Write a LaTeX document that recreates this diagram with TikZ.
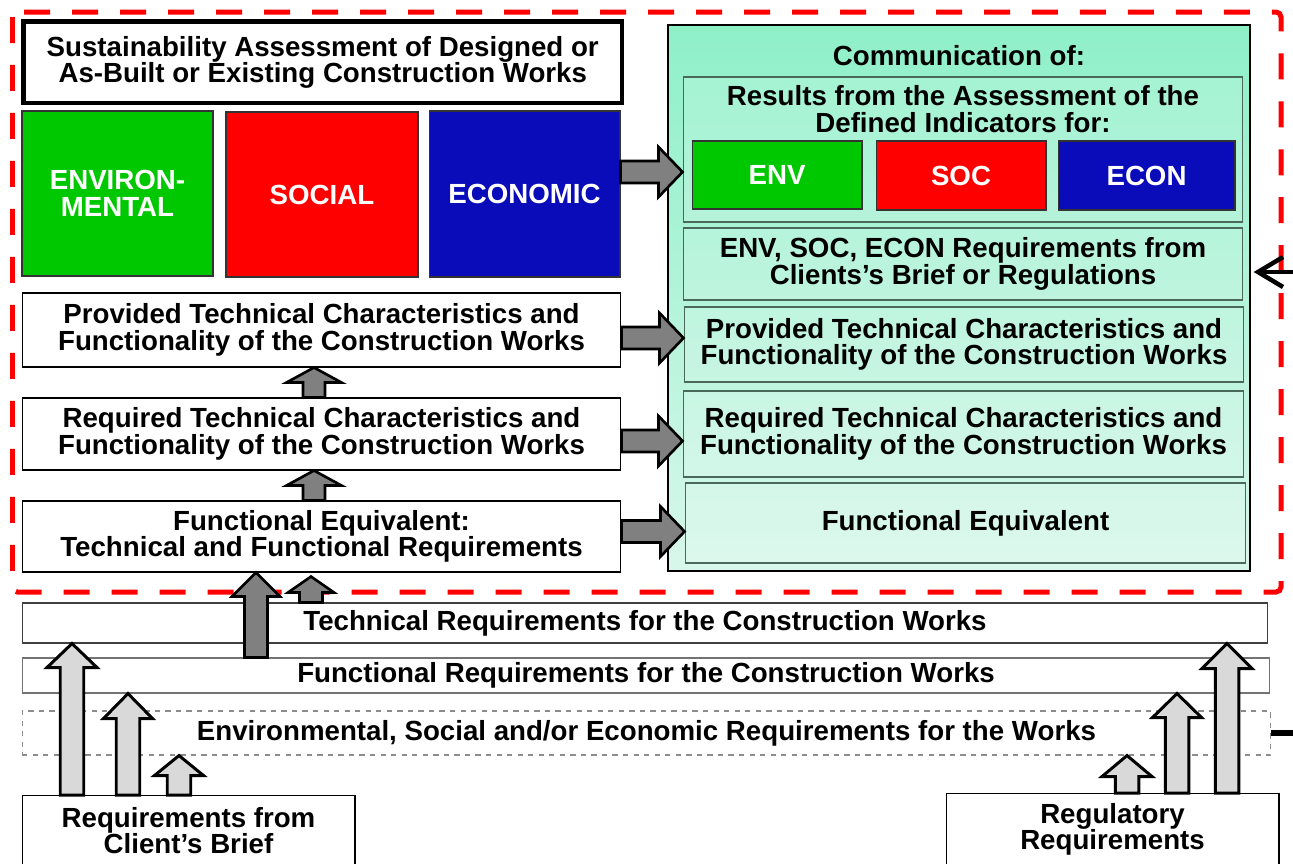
\documentclass[tikz,border=0pt]{standalone}
\usepackage{fontspec}
\setmainfont{Liberation Sans}
\usepackage{xcolor}
\usetikzlibrary{arrows.meta,positioning,calc}

\definecolor{envgreen}{RGB}{0,200,0}
\definecolor{socred}{RGB}{255,0,0}
\definecolor{econblue}{RGB}{10,12,185}
\definecolor{commtop}{RGB}{142,240,200}
\definecolor{commbot}{RGB}{216,247,235}
\definecolor{innerline}{RGB}{75,105,90}
\definecolor{darkarrow}{RGB}{128,128,128}
\definecolor{lightarrow}{RGB}{217,217,217}

% style, from, to, shaft half width, head half width, head length
\newcommand{\blockarrow}[6]{%
  \path (#2) coordinate (ba-s) (#3) coordinate (ba-e);
  \path ($(ba-e)!#6!(ba-s)$) coordinate (ba-h);
  \filldraw[#1] ($(ba-s)!#4!90:(ba-e)$) -- ($(ba-h)!#4!90:(ba-e)$) -- ($(ba-h)!#5!90:(ba-e)$) -- (ba-e)
    -- ($(ba-h)!#5!-90:(ba-e)$) -- ($(ba-h)!#4!-90:(ba-e)$) -- ($(ba-s)!#4!-90:(ba-e)$) -- cycle;}

\begin{document}
\begin{tikzpicture}[x=0.02cm, y=-0.02cm,
every node/.style={font=\fontsize{15.75}{15.1}\selectfont\bfseries, align=center, inner sep=0pt},
whitebox/.style={draw, fill=white, line width=0.6pt},
colbox/.style={draw=black!80, text=white, line width=0.6pt},
commbox/.style={draw, line width=1.2pt, top color=commtop, bottom color=commbot},
subbox/.style={draw=innerline, line width=0.6pt, fill=white, fill opacity=0.15, text opacity=1},
darrow/.style={fill=darkarrow, draw=black, line width=1.5pt},
larrow/.style={fill=lightarrow, draw=black, line width=1.7pt},
]
\useasboundingbox (0,0) rectangle (1293,863);

\draw[red, line width=0.1cm, dash pattern=on 0.52cm off 0.44cm, rounded corners=0.1cm] (12.5,12) rectangle (1281,592);

\node[draw, line width=2.6pt, minimum width=11.97cm, minimum height=1.63cm] (title) at (322.75,62.25) {Sustainability Assessment of Designed or\\As-Built or Existing Construction Works};
\node[colbox, fill=envgreen, minimum width=3.82cm, minimum height=3.3cm] (envir) at (117.5,193.5) {ENVIRON-\\MENTAL};
\node[colbox, fill=socred, minimum width=3.84cm, minimum height=3.3cm] (social) at (322,194.5) {SOCIAL};
\node[colbox, fill=econblue, minimum width=3.82cm, minimum height=3.32cm] (econ) at (524.5,194) {ECONOMIC};

\node[whitebox, minimum width=11.98cm, minimum height=1.48cm] (provL) at (321.5,330) {Provided Technical Characteristics and\\Functionality of the Construction Works};
\node[whitebox, minimum width=11.98cm, minimum height=1.44cm] (reqL) at (321.5,434) {Required Technical Characteristics and\\Functionality of the Construction Works};
\node[whitebox, minimum width=11.98cm, minimum height=1.42cm] (feL) at (321.5,536.5) {Functional Equivalent:\\Technical and Functional Requirements};

\node[commbox, minimum width=11.64cm, minimum height=10.92cm] (comm) at (959,298) {};
\node (commtxt) at (959,56) {Communication of:};
\node[subbox, minimum width=11.2cm, minimum height=2.9cm] (res) at (963,149.5) {};
\node (restxt) at (963,109) {Results from the Assessment of the\\Defined Indicators for:};
\node[colbox, fill=envgreen, minimum width=3.4cm, minimum height=1.36cm] (env) at (777,175) {ENV};
\node[colbox, fill=socred, minimum width=3.4cm, minimum height=1.38cm] (soc) at (961,175.5) {SOC};
\node[colbox, fill=econblue, minimum width=3.54cm, minimum height=1.38cm] (ecn) at (1146.5,175.5) {ECON};
\node[subbox, minimum width=11.2cm, minimum height=1.44cm] (envreq) at (963,264) {ENV, SOC, ECON Requirements from\\Clients’s Brief or Regulations};
\node[subbox, minimum width=11.2cm, minimum height=1.5cm] (provR) at (964,344.5) {Provided Technical Characteristics and\\Functionality of the Construction Works};
\node[subbox, minimum width=11.22cm, minimum height=1.72cm] (reqR) at (963.5,434) {Required Technical Characteristics and\\Functionality of the Construction Works};
\node[subbox, minimum width=11.22cm, minimum height=1.6cm] (feR) at (965.5,523) {Functional Equivalent};

\node[draw=black!75, fill=white, line width=0.6pt, minimum width=24.92cm, minimum height=0.8cm] (tech) at (645,623) {Technical Requirements for the Construction Works};
\node[draw=black!55, fill=white, line width=0.6pt, minimum width=24.96cm, minimum height=0.7cm] (func) at (646,675.5) {Functional Requirements for the Construction Works};
\node[draw=black!45, dashed, fill=white, line width=0.6pt, minimum width=24.98cm, minimum height=0.88cm] (envb) at (646.5,733) {Environmental, Social and/or Economic Requirements for the Works};

\node[whitebox, minimum width=6.66cm, minimum height=1.4cm, anchor=north] (client) at (188.5,795) {Requirements from\\Client’s Brief};
\node[whitebox, minimum width=6.66cm, minimum height=1.44cm, anchor=north] (reg) at (1112.5,793) {Regulatory\\Requirements};

\coordinate (fbout) at (1300,272);
\coordinate (fbin) at (1258,272);
\draw[line width=0.09cm] (fbout) -- (fbin);
\draw[line width=0.09cm, line join=miter] ($(fbin)+(25,-15)$) -- (fbin) -- ($(fbin)+(25,15)$);
\draw[line width=0.12cm] (envb.east) -- ++(25,0);

% arrows into the communication
\blockarrow{darrow}{$(econ.east)+(0,-22)$}{$(res.west)+(0,22.5)$}{0.22cm}{0.5cm}{0.48cm}
\blockarrow{darrow}{$(provL.east)+(0,8)$}{$(provR.west)+(0,-6.5)$}{0.22cm}{0.5cm}{0.48cm}
\blockarrow{darrow}{$(reqL.east)+(0,7)$}{$(reqR.west)+(0,7)$}{0.22cm}{0.5cm}{0.48cm}
\blockarrow{darrow}{$(feL.east)+(0,-5)$}{$(feR.west)+(0,8.5)$}{0.22cm}{0.5cm}{0.48cm}

\coordinate (upx) at (314,0);
\coordinate (upx2) at (311,0);
\coordinate (bigx) at (256,0);
\blockarrow{darrow}{reqL.north -| upx}{provL.south -| upx}{0.22cm}{0.55cm}{0.3cm}
\blockarrow{darrow}{feL.north -| upx}{reqL.south -| upx}{0.22cm}{0.55cm}{0.3cm}
\blockarrow{darrow}{tech.north -| upx2}{$(feL.south -| upx2)+(0,4)$}{0.23cm}{0.46cm}{0.32cm}
\blockarrow{darrow}{func.north -| bigx}{feL.south -| bigx}{0.23cm}{0.48cm}{0.48cm}

\coordinate (la1) at (72,0);
\coordinate (la2) at (128,0);
\coordinate (la3) at (179,0);
\coordinate (ra1) at (1127,0);
\coordinate (ra2) at (1177,0);
\coordinate (ra3) at (1227,0);
\blockarrow{larrow}{client.north -| la1}{tech.south -| la1}{0.235cm}{0.5cm}{0.48cm}
\blockarrow{larrow}{client.north -| la2}{func.south -| la2}{0.235cm}{0.49cm}{0.5cm}
\blockarrow{larrow}{client.north -| la3}{envb.south -| la3}{0.235cm}{0.49cm}{0.4cm}
\blockarrow{larrow}{reg.north -| ra1}{envb.south -| ra1}{0.235cm}{0.5cm}{0.42cm}
\blockarrow{larrow}{reg.north -| ra2}{func.south -| ra2}{0.235cm}{0.49cm}{0.48cm}
\blockarrow{larrow}{reg.north -| ra3}{tech.south -| ra3}{0.235cm}{0.5cm}{0.5cm}
\end{tikzpicture}
\end{document}
